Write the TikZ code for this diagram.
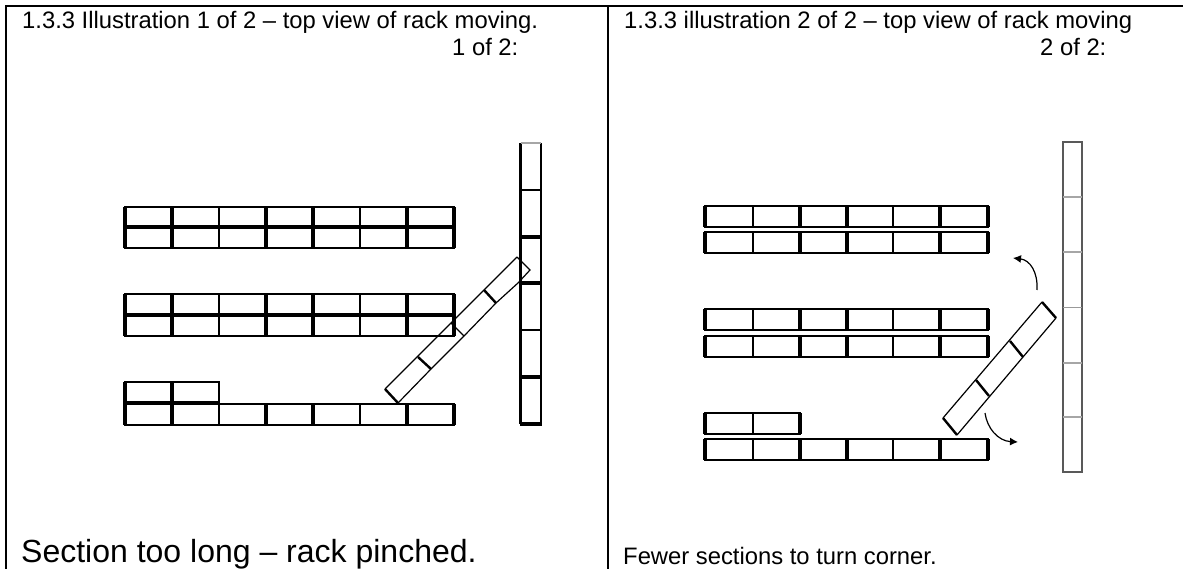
\documentclass[tikz,border=0pt]{standalone}
\usepackage{fontspec}
\setmainfont{Liberation Sans}
\usetikzlibrary{arrows.meta}
\tikzset{
	thinrule/.style={line width=1.6pt},
	midrule/.style={line width=2.3pt},
	thickrule/.style={line width=3.6pt},
	frameline/.style={line width=2pt},
	grayrule/.style={line width=2.4pt,black!35},
	skewrule/.style={line width=1.2pt},
	skewbar/.style={line width=2.4pt},
	caption/.style={anchor=base west,inner sep=0pt,font=\fontsize{23.8}{26}\selectfont},
	turnarrow/.style={line width=1.2pt,-{Latex[length=8pt,width=8pt]}},
}
\begin{document}
\begin{tikzpicture}[x=1pt,y=-1pt]
		%%%%% START %%%%%
		\useasboundingbox (0, 0) rectangle (1183, 569);
		
		\draw[frameline] (6, 569) -- (6, 6) -- (1183, 6);
		\draw[frameline] (608, 6) -- (608, 569);
		
		\node[caption] (titleone) at (22, 29) {1.3.3 Illustration 1 of 2 -- top view of rack moving.};
		\node[caption] (partone) at (452, 56) {1 of 2:};
		\node[caption] (titletwo) at (624, 29) {1.3.3 illustration 2 of 2 -- top view of rack moving};
		\node[caption] (parttwo) at (1040, 56) {2 of 2:};
		\node[caption,font=\fontsize{32}{34}\selectfont] (noteone) at (21, 562) {Section too long -- rack pinched.};
		\node[caption] (notetwo) at (623, 564) {Fewer sections to turn corner.};
		
		% left racks
		\foreach \ytop/\ymid/\ybot in {207/227/248, 294/315/336} {
			\draw[thinrule] (125, \ytop) rectangle (454, \ybot);
			\draw[line width=3.2pt] (125, \ymid) -- (454, \ymid);
			\foreach \xa in {219, 360} \draw[thinrule] (\xa, \ytop) -- (\xa, \ybot);
			\foreach \xa in {125, 172, 266, 313, 407, 454} \draw[thickrule] (\xa, \ytop) -- (\xa, \ybot);
		}
		\draw[thinrule] (125, 382) rectangle (219, 403);
		\draw[thinrule] (125, 404) rectangle (454, 425);
		\draw[line width=3.2pt] (125, 403) -- (219, 403);
		\foreach \xa in {219, 360} \draw[thinrule] (\xa, 404) -- (\xa, 425);
		\foreach \xa in {125, 172} \draw[thickrule] (\xa, 382) -- (\xa, 425);
		\foreach \xa in {266, 313, 407, 454} \draw[thickrule] (\xa, 404) -- (\xa, 425);
		
		% left upright and pinched section
		\draw[midrule] (520.5, 143) -- (520.5, 424) (541, 143) -- (541, 424);
		\draw[grayrule] (520.5, 143) -- (541, 143);
		\foreach \ya in {190, 330} \draw[thinrule] (520.5, \ya) -- (541, \ya);
		\foreach \ya in {237, 283, 377, 424} \draw[thickrule] (519.5, \ya) -- (542, \ya);
		
		\draw[skewrule] (517, 257) -- (385, 389);
		\draw[skewrule] (398, 403) -- (431, 369) -- (464, 336) -- (496, 303) -- (518, 283);
		\draw[skewrule] (517, 257) -- (530, 270) -- (518, 283);
		\draw[skewbar] (385, 389) -- (398, 403);
		\draw[skewbar] (418, 357) -- (431, 369);
		\draw[skewrule] (451, 323) -- (464, 336);
		\draw[skewbar] (484, 290) -- (496, 303);
		
		% right racks
		\foreach \ytop/\ybot in {206/227, 232/253, 309/330, 336/357, 439/460} {
			\draw[midrule] (705, \ytop) rectangle (988, \ybot);
			\foreach \xa in {753, 893} \draw[thinrule] (\xa, \ytop) -- (\xa, \ybot);
			\foreach \xa in {705, 800, 847, 940, 988} \draw[thickrule] (\xa, \ytop) -- (\xa, \ybot);
		}
		\draw[midrule] (705, 413) rectangle (800, 434);
		\draw[thinrule] (753, 413) -- (753, 434);
		\foreach \xa in {705, 800} \draw[thickrule] (\xa, 413) -- (\xa, 434);
		
		% right upright and turning section
		\draw[midrule,black!65] (1063, 142) rectangle (1082, 472);
		\foreach \ya in {197, 252, 363, 417} \draw[grayrule] (1063, \ya) -- (1082, \ya);
		\draw[line width=1pt,black!40] (1063, 307) -- (1082, 307);
		
		\draw[skewrule] (1042, 302) -- (943, 418);
		\draw[skewrule] (1056, 318) -- (957, 435);
		\draw[skewbar] (1042, 302) -- (1056, 318);
		\draw[skewbar] (1010, 341) -- (1023, 357);
		\draw[skewbar] (976, 380) -- (989, 396);
		\draw[skewbar] (943, 418) -- (957, 435);
		
		\coordinate (upstart) at (1037, 290);
		\coordinate (upend) at (1013, 258);
		\coordinate (downstart) at (985, 413);
		\coordinate (downend) at (1018, 442);
		\draw[turnarrow] (upstart) .. controls (1038, 272) and (1030, 260) .. (upend);
		\draw[turnarrow] (downstart) .. controls (987, 428) and (998, 441) .. (downend);
		%%%%% END %%%%%
	\end{tikzpicture}
\end{document}
